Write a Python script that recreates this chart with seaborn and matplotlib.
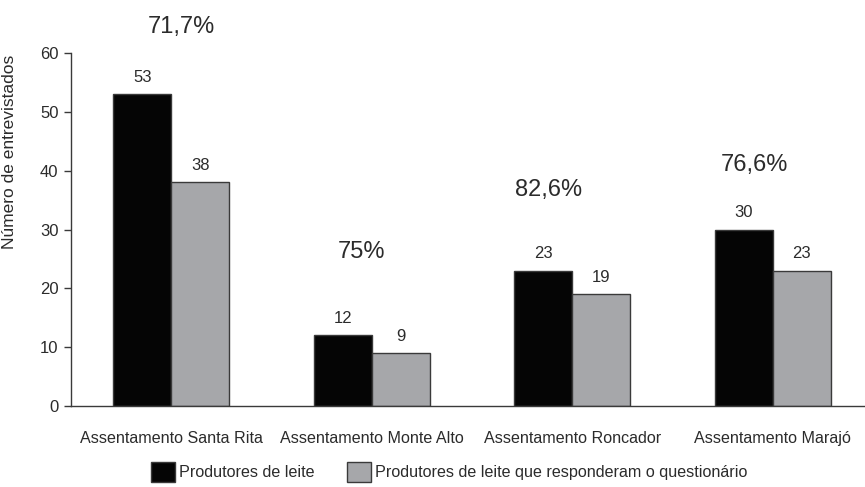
import matplotlib
matplotlib.use("Agg")
import matplotlib.pyplot as plt
import seaborn as sns
import pandas as pd
from matplotlib.patches import Patch

categories = ["Assentamento Santa Rita", "Assentamento Monte Alto",
              "Assentamento Roncador", "Assentamento Marajó"]
series_names = ["Produtores de leite",
                "Produtores de leite que responderam o questionário"]
produtores = [53, 12, 23, 30]
responderam = [38, 9, 19, 23]
percent_labels = ["71,7%", "75%", "82,6%", "76,6%"]
yticks = [0, 10, 20, 30, 40, 50, 60]

df = pd.DataFrame({
    "cat": categories * 2,
    "serie": [series_names[0]] * 4 + [series_names[1]] * 4,
    "val": produtores + responderam,
})

sns.set_style("white")
plt.rcParams["font.family"] = ["Liberation Sans", "DejaVu Sans"]
txt = "#2b2b2b"
edge = "#3a3a3a"
colors = ["#050505", "#a6a7aa"]

fig = plt.figure(figsize=(8.65, 4.87), dpi=100)
ax = fig.add_axes([71/865, 1 - 406/487, 1 - 71/865, (406 - 53)/487])

sns.barplot(data=df, x="cat", y="val", hue="serie", order=categories,
            hue_order=series_names, palette=colors, width=0.58, gap=0,
            edgecolor=edge, linewidth=1.0, ax=ax, legend=False, saturation=1)

ax.set_ylim(0, 60)
ax.set_xlim(-0.5, 3.46)
ax.set_yticks(yticks)
ax.set_yticklabels([str(v) for v in yticks], fontsize=12, color=txt)
ax.set_xticks(range(4))
ax.set_xticklabels(categories, fontsize=11.6, color=txt)
ax.tick_params(axis="x", which="major", length=0, pad=18)
ax.set_xticks([0.5, 1.5, 2.5], minor=True)
ax.tick_params(axis="x", which="minor", length=6, direction="out", color=edge, width=1)
ax.tick_params(axis="y", length=5, direction="out", color=edge, width=1, pad=4, left=True)
ax.set_xlabel("")
ax.set_ylabel("Número de entrevistados", fontsize=12.5, color=txt)
ax.yaxis.set_label_coords(-(71 - 17) / (865 - 71), 0.72)
for s in ["top", "right"]:
    ax.spines[s].set_visible(False)
for s in ["left", "bottom"]:
    ax.spines[s].set_color(edge)
    ax.spines[s].set_linewidth(1)

off = 0.145
for i in range(4):
    ax.text(i - off, produtores[i] + 1.6, str(produtores[i]), ha="center", va="bottom",
            fontsize=12, color=txt)
    ax.text(i + off, responderam[i] + 1.6, str(responderam[i]), ha="center", va="bottom",
            fontsize=12, color=txt)

pct_pos = [(0.05, 64.4), (0.95, 26.2), (1.88, 36.7), (2.91, 41.0)]
for (x, y), lab in zip(pct_pos, percent_labels):
    ax.text(x, y, lab, ha="center", va="center", fontsize=17, color=txt, clip_on=False)

handles = [Patch(facecolor=colors[0], edgecolor=edge),
           Patch(facecolor=colors[1], edgecolor=edge)]
fig.legend(handles, series_names, loc="center", bbox_to_anchor=(0.519, 0.031),
           ncol=2, frameon=False, fontsize=11.6, handlelength=1.5, handleheight=1.5,
           handletextpad=0.25, columnspacing=2.0, labelcolor=txt, borderpad=0,
           borderaxespad=0)

fig.savefig("out.png", dpi=100)
